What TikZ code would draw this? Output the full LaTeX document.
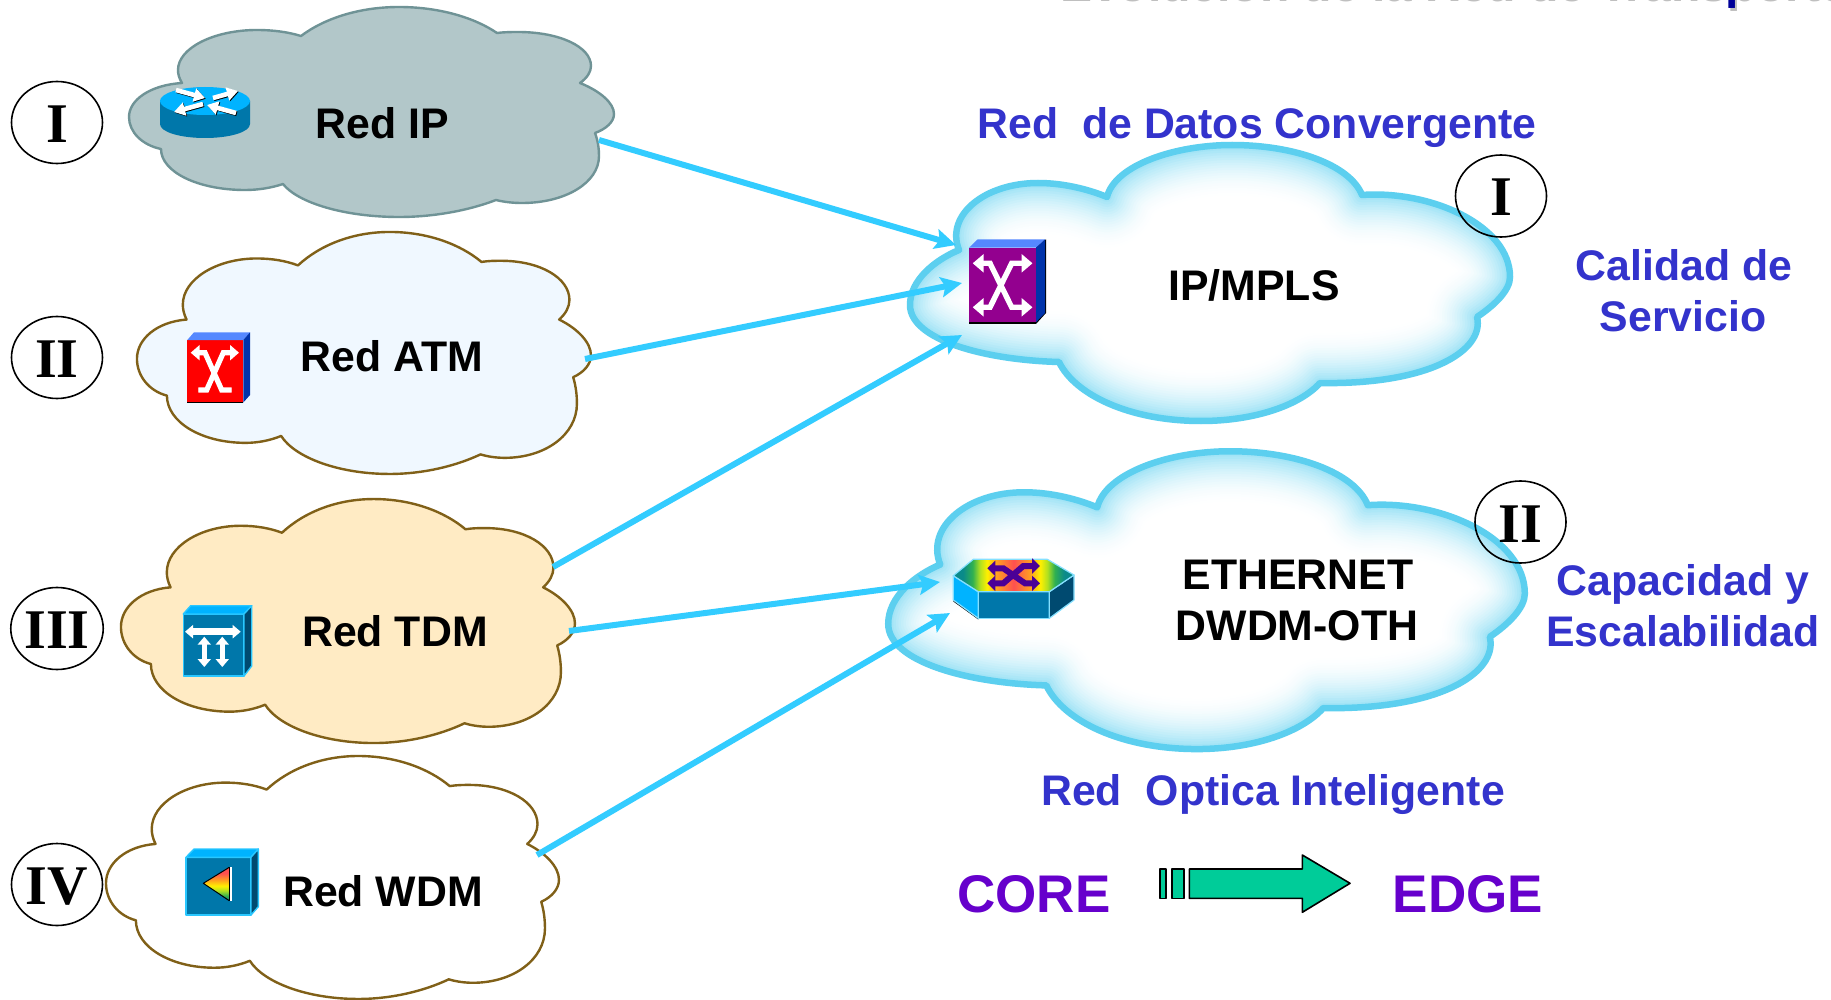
\documentclass[tikz,border=0pt]{standalone}
\usepackage{fontspec}
\setmainfont{Liberation Sans}
\newfontfamily\romanfont{Liberation Serif}
\usetikzlibrary{arrows.meta,shapes.geometric}
\definecolor{linkblue}{HTML}{33CCFF}
\definecolor{labelblue}{HTML}{3333CC}
\definecolor{corepurple}{HTML}{6600CC}
\definecolor{gbrown}{HTML}{806018}
\definecolor{glowc}{HTML}{5CCFEF}
\definecolor{icfront}{HTML}{0077AA}
\definecolor{ictop}{HTML}{00B3FF}
\definecolor{icside}{HTML}{004A70}
\definecolor{bltop}{HTML}{5588FF}
\definecolor{blside}{HTML}{0033AA}
\definecolor{mplsfront}{HTML}{93008F}
\definecolor{hexarrow}{HTML}{4B0096}
\definecolor{ipfill}{HTML}{B2C7C9}
\definecolor{ipedge}{HTML}{6F9396}
\definecolor{atmfill}{HTML}{F0F8FF}
\definecolor{tdmfill}{HTML}{FFEBC4}
\definecolor{arrowgreen}{HTML}{00CC99}
\definecolor{rbA}{HTML}{0A8A8A}
\definecolor{rbB}{HTML}{30B050}
\definecolor{rbC}{HTML}{B0E020}
\definecolor{rbD}{HTML}{FFF000}
\definecolor{rbE}{HTML}{FFA020}
\definecolor{rbF}{HTML}{FF5050}
\pgfdeclareverticalshading{prismshade}{100bp}{color(0bp)=(rbA); color(25bp)=(rbA); color(32bp)=(rbB); color(40bp)=(rbC); color(47bp)=(rbD); color(56bp)=(rbE); color(66bp)=(rbF); color(75bp)=(rbF); color(100bp)=(rbF)}
\pgfdeclarehorizontalshading{hexshade}{100bp}{color(0bp)=(rbA); color(29bp)=(rbA); color(33bp)=(rbB); color(36bp)=(rbC); color(39bp)=(rbD); color(43bp)=(rbE); color(50bp)=(rbF); color(57bp)=(rbE); color(61bp)=(rbD); color(64bp)=(rbC); color(67bp)=(rbB); color(71bp)=(rbA); color(100bp)=(rbA)}
\newcommand\cloudL{(301,36) .. controls (325,18) and (360,7) .. (399,7) .. controls (440,7) and (475,18) .. (497,33)
 .. controls (505,32) and (512,32) .. (518,32) .. controls (560,32) and (591,47) .. (591,66) .. controls (591,72) and (587,78) .. (580,83)
 .. controls (600,91) and (614,103) .. (614,114) .. controls (614,122) and (606,129) .. (595,133)
 .. controls (598,141) and (599,149) .. (599,156) .. controls (599,183) and (565,203) .. (522,203) .. controls (513,203) and (504,202) .. (496,200)
 .. controls (470,210) and (435,217) .. (399,217) .. controls (345,217) and (298,203) .. (283,184)
 .. controls (271,188) and (258,190) .. (245,190) .. controls (198,190) and (161,172) .. (161,149)
 .. controls (142,145) and (129,132) .. (129,117) .. controls (129,100) and (150,85) .. (182,83)
 .. controls (179,78) and (178,74) .. (178,70) .. controls (178,48) and (214,30) .. (257,30) .. controls (273,30) and (288,32) .. (301,36) -- cycle}
\newcommand\cloudR{(1107,197) .. controls (1115,165) and (1175,145) .. (1232,145) .. controls (1295,145) and (1350,165) .. (1362,195)
 .. controls (1430,190) and (1510,225) .. (1510,277) .. controls (1510,290) and (1495,305) .. (1477,317)
 .. controls (1485,350) and (1430,385) .. (1320,383)
 .. controls (1300,405) and (1255,421) .. (1201,421) .. controls (1130,421) and (1075,395) .. (1059,362)
 .. controls (985,360) and (910,340) .. (910,305) .. controls (910,280) and (935,260) .. (959,250)
 .. controls (945,215) and (985,183) .. (1038,183) .. controls (1065,183) and (1090,190) .. (1107,197) -- cycle}
\newcommand\glowcloud{%
  \begin{scope}
    \clip \cloudR;
    \fill[white] \cloudR;
    \foreach \i in {1,...,21}{
      \pgfmathsetmacro\glowwd{110-5*\i}
      \pgfmathsetmacro\glowpct{62*(\i/21)*(\i/21)}
      \draw[line width=\glowwd pt, glowc!\glowpct!white, line join=round] \cloudR;
    }
  \end{scope}
  \draw[line width=6.5pt, glowc, line join=round] \cloudR;}
\tikzset{
  cloudedge/.style={line width=2.4pt, line join=round},
  netlabel/.style={font=\fontsize{42.8}{46}\selectfont\bfseries, anchor=base, inner sep=0pt},
  bluelabel/.style={netlabel, text=labelblue},
  corelabel/.style={font=\fontsize{53}{56}\selectfont\bfseries, anchor=base, inner sep=0pt, text=corepurple},
  romancircle/.style={draw=black, line width=1.6pt, ellipse, inner sep=0pt, minimum width=91pt, minimum height=82pt, text height=40pt, text depth=0pt, font=\fontsize{56}{60}\selectfont\romanfont\bfseries},
  link/.style={draw=linkblue, line width=6pt, -{Stealth[length=21pt,width=20pt,inset=4pt]}},
  whitearrow/.style={draw=white, line width=4.6pt, -{Triangle[length=11pt,width=13pt]}},
  shadowarrow/.style={draw=black, line width=4.6pt, -{Triangle[length=11pt,width=13pt]}},
  xarrow/.style={draw=white, line width=5.4pt, line join=miter, {Triangle[length=11pt,width=18pt]}-{Triangle[length=11pt,width=18pt]}},
  xarrowatm/.style={draw=white, line width=5.2pt, line join=miter, {Triangle[length=9pt,width=15pt]}-{Triangle[length=0.1pt,width=5.2pt]}},
  xarrowhex/.style={draw=hexarrow, line width=6pt, {Triangle[length=8pt,width=15pt]}-{Triangle[length=8pt,width=15pt]}},
  tdmarrow/.style={draw=white, {Triangle[length=8pt,width=13pt]}-{Triangle[length=8pt,width=13pt]}},
  iconline/.style={draw=linkblue!80!ictop, line width=1.4pt, line join=round},
  hexline/.style={draw=linkblue!60!white, line width=1.2pt, line join=round},
  greenshape/.style={draw=black, line width=1.6pt, fill=arrowgreen, line join=round},
}
\begin{document}
\begin{tikzpicture}[x=1pt,y=-1pt]
\useasboundingbox (0,0) rectangle (1831,1000);
\fill[white] (0,0) rectangle (1831,1000);

% title, cut by the top edge of the picture
\begin{scope}
  \clip (0,0) rectangle (1831,1000);
  \node[font=\fontsize{48}{52}\selectfont\bfseries, anchor=base west, inner sep=0pt, text=black!25] (titleshadow) at (1060,1.5) {Evolución de la Red de Transporte};
  \node[font=\fontsize{48}{52}\selectfont\bfseries, anchor=base west, inner sep=0pt, text=blue!60!black] (title) at (1058,-1.5) {Evolución de la Red de Transporte};
\end{scope}

% left clouds
\draw[cloudedge, draw=ipedge, fill=ipfill] \cloudL;
\begin{scope}[shift={(16.2,223.9)},xscale=0.9361,yscale=1.1524]
  \draw[cloudedge, draw=gbrown, fill=atmfill] \cloudL;
\end{scope}
\begin{scope}[shift={(0.2,490.9)},xscale=0.9361,yscale=1.1619]
  \draw[cloudedge, draw=gbrown, fill=tdmfill] \cloudL;
\end{scope}
\begin{scope}[shift={(-14.5,747.9)},xscale=0.934,yscale=1.157]
  \draw[cloudedge, draw=gbrown, fill=white] \cloudL;
\end{scope}

% right clouds
\glowcloud
\begin{scope}[shift={(-77.3,294.8)},xscale=1.061,yscale=1.079]
  \glowcloud
\end{scope}

% router icon
\fill[icfront] (160,101) -- (160,124) .. controls (160,132) and (180,138) .. (205,138) .. controls (230,138) and (250,132) .. (250,124) -- (250,101) -- cycle;
\fill[ictop] (205,101) ellipse [x radius=45pt, y radius=14pt];
\begin{scope}[shift={(0.8,0.8)}]
  \draw[shadowarrow] (176,90) -- (205,98);
  \draw[shadowarrow] (213,98) -- (238,91);
  \draw[shadowarrow] (203,104) -- (174,112);
  \draw[shadowarrow] (236,113) -- (207,105);
\end{scope}
\draw[whitearrow] (176,90) -- (205,98);
\draw[whitearrow] (213,98) -- (238,91);
\draw[whitearrow] (203,104) -- (174,112);
\draw[whitearrow] (236,113) -- (207,105);

% ATM switch icon
\fill[black] (187.3,340) rectangle (243.3,403);
\fill[red] (187.3,340) rectangle (243.3,401.7);
\fill[bltop] (187.3,340) -- (194,332.3) -- (250,332.3) -- (243.3,340) -- cycle;
\fill[blside] (243.3,340) -- (250,332.3) -- (250,395) -- (243.3,402.5) -- cycle;
\draw[xarrowatm] (190.7,352.7) -- (205,352.7) -- (221.7,390) -- (231.7,390);
\draw[xarrowatm] (239,352.7) -- (223.3,352.7) -- (206.7,390) -- (198.3,390);

% TDM icon
\filldraw[iconline, fill=icfront] (183.3,614) rectangle (244,676);
\filldraw[iconline, fill=ictop] (183.3,614) -- (190.7,605.7) -- (251.7,605.7) -- (244,614) -- cycle;
\filldraw[iconline, fill=icside] (244,614) -- (251.7,605.7) -- (251.7,666) -- (244,676) -- cycle;
\draw[tdmarrow, line width=7pt] (185,631.7) -- (240.7,631.7);
\draw[tdmarrow, line width=5pt] (204.3,636.7) -- (204.3,667);
\draw[tdmarrow, line width=5pt] (222.3,636.7) -- (222.3,667);

% WDM icon
\filldraw[iconline, fill=icfront] (186,857.3) rectangle (251,915);
\filldraw[iconline, fill=ictop] (186,857.3) -- (194,849) -- (258.3,849) -- (251,857.3) -- cycle;
\filldraw[iconline, fill=icside] (251,857.3) -- (258.3,849) -- (258.3,906.7) -- (251,915) -- cycle;
\shade[shading=prismshade] (203.3,883.3) -- (229.3,867.3) -- (229.3,900.7) -- cycle;
\draw[black, line width=1pt, line join=round] (229.3,867.3) -- (203.3,883.3) -- (229.3,900.7);
\fill[white] (229.3,867) rectangle (232,901);
\fill[black] (228.6,867) rectangle (229.6,901);

% MPLS switch icon
\fill[black] (969,247.7) rectangle (1036,324);
\fill[black] (1036,247.7) -- (1046,239.3) -- (1046,313) -- (1036,324) -- cycle;
\fill[mplsfront] (969,247.7) rectangle (1036,322.3);
\fill[bltop] (969,247.7) -- (977.7,239.3) -- (1045,239.3) -- (1036,247.7) -- cycle;
\fill[blside] (1036,247.7) -- (1045,239.3) -- (1045,313) -- (1036,322.3) -- cycle;
\draw[xarrow] (972.7,263.3) -- (990,263.3) -- (1011.7,307.3) -- (1032.5,307.3);
\draw[xarrow] (1032.5,263.3) -- (1011.7,263.3) -- (990,307.3) -- (972.7,307.3);

% links
\coordinate (ipstart)   at (599,140);
\coordinate (ipend)     at (956,245);
\coordinate (atmstart)  at (585,359);
\coordinate (atmend)    at (962,283);
\coordinate (tdmstartA) at (553,567);
\coordinate (tdmendA)   at (962,335);
\coordinate (tdmstartB) at (569,631);
\coordinate (tdmendB)   at (940,582);
\coordinate (wdmstart)  at (537,855);
\coordinate (wdmend)    at (950,613);
\draw[link] (ipstart) -- (ipend);
\draw[link] (atmstart) -- (atmend);
\draw[link] (tdmstartA) -- (tdmendA);
\draw[link] (tdmstartB) -- (tdmendB);
\draw[link] (wdmstart) -- (wdmend);

% Ethernet hex icon
\fill[black] (953.3,578) -- (953.3,601.5) -- (978.3,619.5) -- (985,600) -- cycle;
\filldraw[hexline, fill=ictop] (953.3,575.7) -- (953.3,600) -- (978.3,618.3) -- (978.3,591.7) -- cycle;
\filldraw[hexline, fill=icfront] (978.3,591.7) -- (978.3,618.3) -- (1049.3,618.3) -- (1049.3,591.7) -- cycle;
\filldraw[hexline, fill=icside] (1049.3,591.7) -- (1049.3,618.3) -- (1074,600) -- (1074,575) -- cycle;
\shade[shading=hexshade] (953.3,575.7) -- (973.3,559.3) -- (1047.3,559.3) -- (1074,575) -- (1049.3,591.7) -- (978.3,591.7) -- cycle;
\draw[hexline] (953.3,575.7) -- (973.3,559.3) -- (1047.3,559.3) -- (1074,575) -- (1049.3,591.7) -- (978.3,591.7) -- cycle;
\draw[xarrowhex] (987.3,568.3) -- (1003.3,568.3) -- (1025,583.3) -- (1040,583.3);
\draw[xarrowhex] (1040,566) -- (1023.3,566) -- (1003.3,583.3) -- (987.3,583.3);

% labels in clouds
\node[netlabel] (redip) at (382,139) {Red IP};
\node[netlabel] (redatm) at (392,371) {Red ATM};
\node[netlabel] (redtdm) at (395,646) {Red TDM};
\node[netlabel] (redwdm) at (383,906) {Red WDM};
\node[netlabel] (mpls) at (1254,301) {IP/MPLS};
\node[netlabel] (eth) at (1298,589) {ETHERNET};
\node[netlabel] (dwdm) at (1297,640) {DWDM-OTH};

% blue labels
\node[bluelabel] (convergente) at (1257,139) {Red\ \ de Datos Convergente};
\node[bluelabel] (calidad) at (1684,281) {Calidad de};
\node[bluelabel] (servicio) at (1683,331) {Servicio};
\node[bluelabel] (capacidad) at (1683,595) {Capacidad y};
\node[bluelabel] (escala) at (1683,646) {Escalabilidad};
\node[bluelabel] (optica) at (1273,805) {Red\ \ Optica Inteligente};

% core edge
\node[corelabel] (core) at (1034,912) {CORE};
\node[corelabel] (edge) at (1468,912) {EDGE};
\filldraw[greenshape] (1160,869) rectangle (1166,898.3);
\filldraw[greenshape] (1171.7,869) rectangle (1184,898.3);
\filldraw[greenshape] (1189.3,869) -- (1302.3,869) -- (1302.3,855) -- (1350,883.3) -- (1302.3,912.3) -- (1302.3,898.3) -- (1189.3,898.3) -- cycle;

% roman circles
\node[romancircle] (cI) at (57,122.5) {I};
\node[romancircle] (cII) at (57,357.5) {II};
\node[romancircle] (cIII) at (57,628.5) {III};
\node[romancircle] (cIV) at (57,884.5) {IV};
\node[romancircle] (rI) at (1501,196) {I};
\node[romancircle] (rII) at (1520.5,522) {II};
\end{tikzpicture}
\end{document}
